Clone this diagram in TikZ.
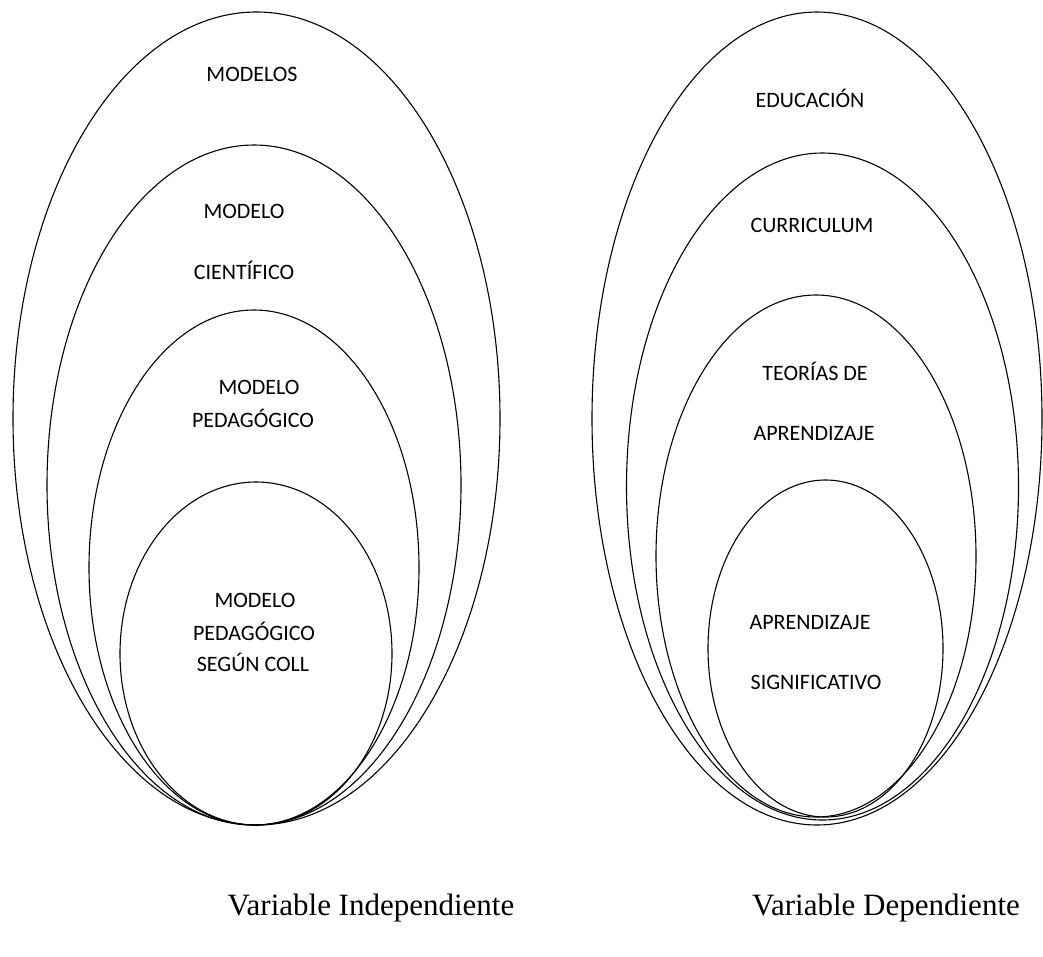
\documentclass[tikz,border=0pt]{standalone}
\usepackage{fontspec}
\setmainfont{Liberation Serif}
\newfontfamily\calfont{Carlito}
\begin{document}
\begin{tikzpicture}[x=1pt,y=-1pt,
  ring/.style={draw=black,line width=1.1pt},
  lbl/.style={font=\calfont\fontsize{22}{26}\selectfont,inner sep=0pt,anchor=base},
  captext/.style={font=\fontsize{31}{36}\selectfont,inner sep=0pt,anchor=base}]
\useasboundingbox (0,0) rectangle (1043,956);
% left group
\draw[ring] (256.5,418.5) ellipse [x radius=243.5, y radius=406.5];
\draw[ring] (254,485) ellipse [x radius=207, y radius=340];
\draw[ring] (254,567.5) ellipse [x radius=165, y radius=257.5];
\draw[ring] (256,653.5) ellipse [x radius=136, y radius=171.5];
% right group
\draw[ring] (817,418.5) ellipse [x radius=225, y radius=406.5];
\draw[ring] (822.5,486.5) ellipse [x radius=196, y radius=333.5];
\draw[ring] (816,556) ellipse [x radius=160, y radius=261];
\draw[ring] (825.5,648.5) ellipse [x radius=117.5, y radius=168.5];
% left texts
\node[lbl] (t1) at (252,81) {MODELOS};
\node[lbl] (t2) at (244,218) {MODELO};
\node[lbl] (t3) at (244,279) {CIENTÍFICO};
\node[lbl] (t4) at (259,394) {MODELO};
\node[lbl] (t5) at (253,427) {PEDAGÓGICO};
\node[lbl] (t6) at (255,607) {MODELO};
\node[lbl] (t7) at (254,640) {PEDAGÓGICO};
\node[lbl] (t8) at (253,671) {SEGÚN COLL};
% right texts
\node[lbl] (r1) at (810,107) {EDUCACIÓN};
\node[lbl] (r2) at (812,232) {CURRICULUM};
\node[lbl] (r3) at (815,380) {TEORÍAS DE};
\node[lbl] (r4) at (814,440) {APRENDIZAJE};
\node[lbl] (r5) at (810,629) {APRENDIZAJE};
\node[lbl] (r6) at (816,689) {SIGNIFICATIVO};
% captions
\node[captext] (c1) at (371,915) {Variable Independiente};
\node[captext] (c2) at (886,915) {Variable Dependiente};
\end{tikzpicture}
\end{document}
